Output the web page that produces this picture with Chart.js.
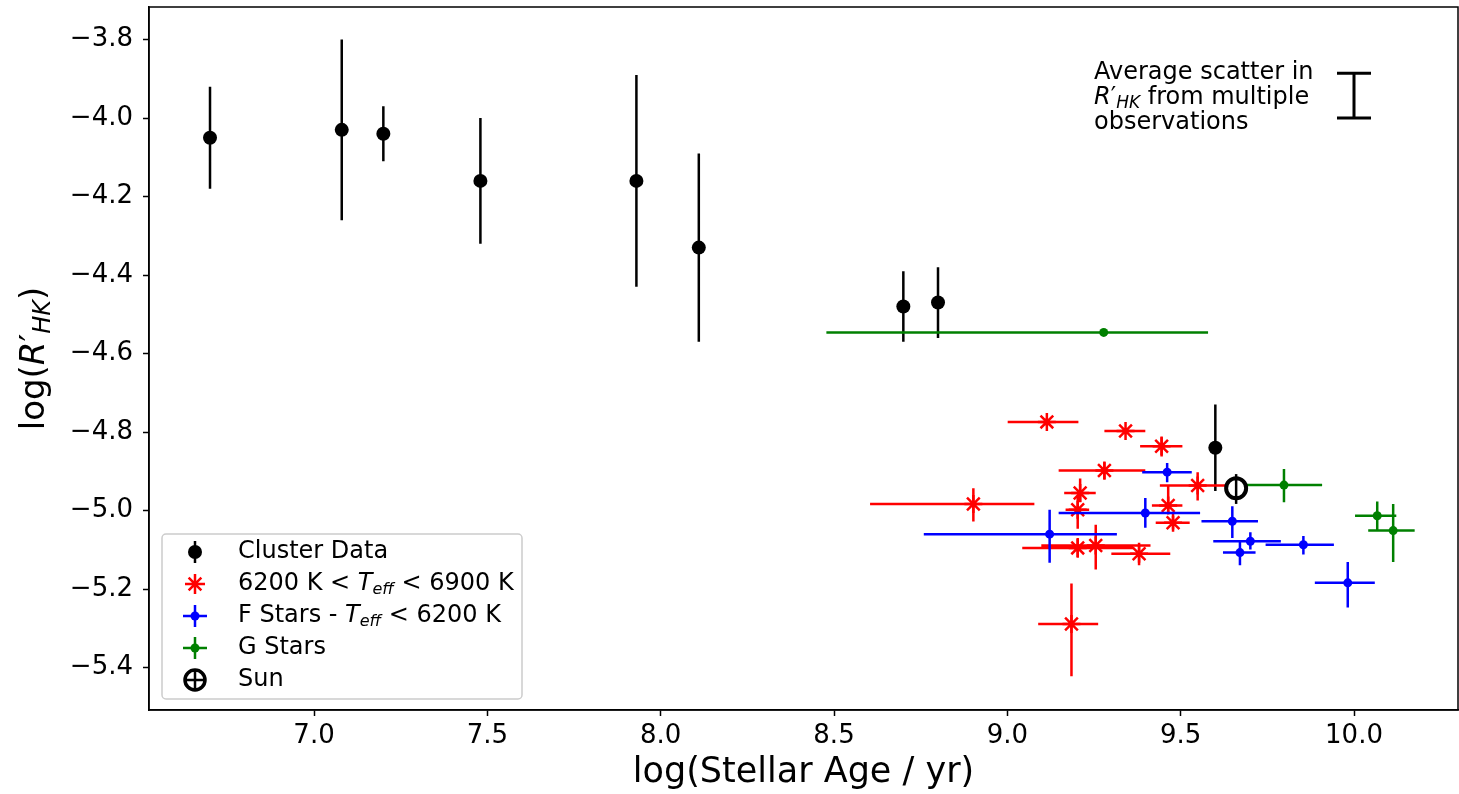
<!DOCTYPE html>
<html>
<head>
<meta charset="utf-8">
<script src="https://cdn.jsdelivr.net/npm/chart.js@4.4.0/dist/chart.umd.min.js"></script>
<style>
  body { margin: 0; background: #fff; }
  canvas { display: block; }
</style>
</head>
<body>
<canvas id="chart" width="1459" height="794"></canvas>
<script>
// Cluster data (no age errors)
const clusterAge = [6.70, 7.08, 7.20, 7.48, 7.93, 8.11, 8.70, 8.80, 9.60];
const clusterR = [-4.05, -4.03, -4.04, -4.16, -4.16, -4.33, -4.48, -4.47, -4.84];
const clusterRLo = [-4.18, -4.26, -4.11, -4.32, -4.43, -4.57, -4.57, -4.56, -4.95];
const clusterRHi = [-3.92, -3.80, -3.97, -4.00, -3.89, -4.09, -4.39, -4.38, -4.73];

// 6200 K < Teff < 6900 K
const hotAge = [9.114, 9.341, 9.445, 9.28, 9.549, 9.464, 9.478, 8.902, 9.21, 9.203, 9.203, 9.255, 9.38, 9.185];
const hotAgeLo = [9.001, 9.28, 9.383, 9.148, 9.44, 9.417, 9.428, 8.604, 9.164, 9.168, 9.043, 9.098, 9.30, 9.089];
const hotAgeHi = [9.205, 9.398, 9.505, 9.398, 9.66, 9.505, 9.526, 9.078, 9.255, 9.236, 9.363, 9.413, 9.47, 9.262];
const hotR = [-4.774, -4.797, -4.836, -4.898, -4.936, -4.987, -5.031, -4.983, -4.955, -4.998, -5.095, -5.089, -5.11, -5.289];
const hotRLo = [-4.783, -4.805, -4.862, -4.921, -4.974, -5.008, -5.048, -5.028, -4.979, -5.046, -5.12, -5.15, -5.139, -5.422];
const hotRHi = [-4.765, -4.79, -4.811, -4.877, -4.902, -4.935, -5.013, -4.943, -4.918, -4.963, -5.07, -5.036, -5.082, -5.186];

// F stars - Teff < 6200 K
const fAge = [9.461, 9.398, 9.649, 9.701, 9.671, 9.854, 9.982, 9.122];
const fAgeLo = [9.389, 9.148, 9.56, 9.594, 9.622, 9.745, 9.887, 8.759];
const fAgeHi = [9.532, 9.556, 9.723, 9.789, 9.716, 9.942, 10.06, 9.316];
const fR = [-4.902, -5.006, -5.027, -5.078, -5.107, -5.087, -5.184, -5.06];
const fRLo = [-4.928, -5.044, -5.07, -5.099, -5.139, -5.112, -5.247, -5.133];
const fRHi = [-4.879, -4.968, -4.989, -5.055, -5.078, -5.065, -5.131, -4.998];

// G stars
const gAge = [9.278, 9.798, 10.067, 10.113];
const gAgeLo = [8.478, 9.67, 10.003, 10.041];
const gAgeHi = [9.579, 9.908, 10.122, 10.175];
const gR = [-4.546, -4.935, -5.013, -5.051];
const gRLo = [-4.546, -4.979, -5.048, -5.131];
const gRHi = [-4.546, -4.894, -4.977, -4.983];

// Sun
const sunAge = [9.66];
const sunR = [-4.943];
const sunRLo = [-4.983];
const sunRHi = [-4.907];

// "Average scatter" bar
const scatterBarAge = 10.0;
const scatterBarLo = -4.0;
const scatterBarHi = -3.886;
const scatterTextAge = 9.25;
const scatterText = [
  [['Average scatter in', '']],
  [['R', 'i'], ['\u2032', ''], ['HK', 'is'], [' from multiple', '']],
  [['observations', '']]
];

const legendLabels = [
  [['Cluster Data', '']],
  [['6200 K < ', ''], ['T', 'i'], ['eff', 'is'], [' < 6900 K', '']],
  [['F Stars - ', ''], ['T', 'i'], ['eff', 'is'], [' < 6200 K', '']],
  [['G Stars', '']],
  [['Sun', '']]
];

const xTitle = 'log(Stellar Age / yr)';
const yTitle = [['log(', ''], ['R', 'i'], ['\u2032', ''], ['HK', 'is'], [')', '']];

const FONT = 'DejaVu Sans';

function toPoints(xs, ys) {
  return xs.map((x, i) => ({ x: x, y: ys[i] }));
}

function richText(ctx, parts, x, y, size, align) {
  const fontFor = st => (st.includes('i') ? 'italic ' : '') +
    Math.round(st.includes('s') ? size * 0.7 : size) + 'px "' + FONT + '"';
  let w = 0;
  parts.forEach(([t, st]) => { ctx.font = fontFor(st); w += ctx.measureText(t).width; });
  let cx = align === 'center' ? x - w / 2 : x;
  parts.forEach(([t, st]) => {
    ctx.font = fontFor(st);
    ctx.fillText(t, cx, st.includes('s') ? y + size * 0.25 : y);
    cx += ctx.measureText(t).width;
  });
}

function drawErrors(chart, ds) {
  const xs = chart.scales.x, ys = chart.scales.y, ctx = chart.ctx, a = chart.chartArea;
  const e = ds.errors;
  ctx.save();
  ctx.beginPath();
  ctx.rect(a.left, a.top, a.right - a.left, a.bottom - a.top);
  ctx.clip();
  ctx.strokeStyle = ds.errorColor;
  ctx.lineWidth = 2.5;
  ctx.beginPath();
  ds.data.forEach((p, i) => {
    const px = xs.getPixelForValue(p.x), py = ys.getPixelForValue(p.y);
    if (e.xLo) {
      ctx.moveTo(xs.getPixelForValue(e.xLo[i]), py);
      ctx.lineTo(xs.getPixelForValue(e.xHi[i]), py);
    }
    if (e.yLo) {
      ctx.moveTo(px, ys.getPixelForValue(e.yLo[i]));
      ctx.lineTo(px, ys.getPixelForValue(e.yHi[i]));
    }
  });
  ctx.stroke();
  ctx.restore();
}

const errorBarPlugin = {
  id: 'errorBars',
  beforeDatasetDraw(chart, args) {
    const ds = chart.data.datasets[args.index];
    if (ds.errors && !ds.errorsOnTop) drawErrors(chart, ds);
  },
  afterDatasetDraw(chart, args) {
    const ds = chart.data.datasets[args.index];
    if (ds.errors && ds.errorsOnTop) drawErrors(chart, ds);
  }
};

// legend marker shapes
function legendMarker(ctx, kind, x, y) {
  ctx.save();
  ctx.lineWidth = 2.5;
  if (kind === 0) {
    ctx.strokeStyle = '#000'; ctx.fillStyle = '#000';
    ctx.beginPath(); ctx.moveTo(x, y - 11); ctx.lineTo(x, y + 11); ctx.stroke();
    ctx.beginPath(); ctx.arc(x, y, 7, 0, Math.PI * 2); ctx.fill();
  } else if (kind === 1) {
    ctx.strokeStyle = 'red';
    ctx.beginPath();
    ctx.moveTo(x - 10, y); ctx.lineTo(x + 10, y);
    ctx.moveTo(x, y - 10); ctx.lineTo(x, y + 10);
    const d = 9 * Math.SQRT1_2;
    ctx.moveTo(x - d, y - d); ctx.lineTo(x + d, y + d);
    ctx.moveTo(x - d, y + d); ctx.lineTo(x + d, y - d);
    ctx.stroke();
  } else if (kind === 2 || kind === 3) {
    const c = kind === 2 ? 'blue' : 'green';
    ctx.strokeStyle = c; ctx.fillStyle = c;
    ctx.beginPath();
    ctx.moveTo(x - 12, y); ctx.lineTo(x + 12, y);
    ctx.moveTo(x, y - 11); ctx.lineTo(x, y + 11);
    ctx.stroke();
    ctx.beginPath(); ctx.arc(x, y, 4.5, 0, Math.PI * 2); ctx.fill();
  } else {
    ctx.strokeStyle = '#000'; ctx.lineWidth = 3.5;
    ctx.beginPath(); ctx.arc(x, y, 10, 0, Math.PI * 2); ctx.stroke();
    ctx.lineWidth = 2.5;
    ctx.beginPath();
    ctx.moveTo(x - 10, y); ctx.lineTo(x + 10, y);
    ctx.moveTo(x, y - 10); ctx.lineTo(x, y + 10);
    ctx.stroke();
  }
  ctx.restore();
}

const decorPlugin = {
  id: 'decor',
  afterDraw(chart) {
    const ctx = chart.ctx, a = chart.chartArea;
    const xs = chart.scales.x, ys = chart.scales.y;
    ctx.save();
    // full frame
    ctx.strokeStyle = '#000';
    ctx.lineWidth = 1.5;
    ctx.strokeRect(a.left, a.top, a.right - a.left, a.bottom - a.top);

    // y-axis title
    ctx.fillStyle = '#000';
    ctx.textBaseline = 'middle';
    ctx.save();
    ctx.translate(35, (a.top + a.bottom) / 2);
    ctx.rotate(-Math.PI / 2);
    richText(ctx, yTitle, 0, 0, 34, 'center');
    ctx.restore();

    // average scatter bar with caps
    const bx = xs.getPixelForValue(scatterBarAge);
    const bt = ys.getPixelForValue(scatterBarHi), bb = ys.getPixelForValue(scatterBarLo);
    ctx.lineWidth = 3;
    ctx.beginPath();
    ctx.moveTo(bx, bt); ctx.lineTo(bx, bb);
    ctx.moveTo(bx - 17, bt); ctx.lineTo(bx + 17, bt);
    ctx.moveTo(bx - 17, bb); ctx.lineTo(bx + 17, bb);
    ctx.stroke();

    // annotation text
    scatterText.forEach((line, i) => {
      richText(ctx, line, xs.getPixelForValue(scatterTextAge), 73 + i * 25, 24, 'left');
    });

    // legend
    const lx = a.left + 13, ly = a.bottom - 176, lw = 360, lh = 165;
    ctx.fillStyle = 'rgba(255,255,255,0.8)';
    ctx.strokeStyle = '#cccccc';
    ctx.lineWidth = 1.5;
    ctx.beginPath();
    ctx.roundRect(lx, ly, lw, lh, 4);
    ctx.fill();
    ctx.stroke();
    legendLabels.forEach((parts, i) => {
      const ry = ly + 18 + i * 32;
      legendMarker(ctx, i, lx + 33, ry);
      ctx.fillStyle = '#000';
      richText(ctx, parts, lx + 76, ry, 23.5, 'left');
    });
    ctx.restore();
  }
};

const tickFont = { family: FONT, size: 26 };

new Chart(document.getElementById('chart'), {
  type: 'scatter',
  data: {
    datasets: [
      {
        label: 'Cluster Data',
        data: toPoints(clusterAge, clusterR),
        errors: { yLo: clusterRLo, yHi: clusterRHi },
        errorColor: '#000',
        backgroundColor: '#000', borderColor: '#000',
        pointRadius: 7, pointBorderWidth: 0,
        order: 5
      },
      {
        label: '6200 K < Teff < 6900 K',
        data: toPoints(hotAge, hotR),
        errors: { xLo: hotAgeLo, xHi: hotAgeHi, yLo: hotRLo, yHi: hotRHi },
        errorColor: 'red',
        pointStyle: 'star',
        backgroundColor: 'red', borderColor: 'red',
        pointRadius: 9, pointBorderWidth: 2.5,
        order: 4
      },
      {
        label: 'F Stars - Teff < 6200 K',
        data: toPoints(fAge, fR),
        errors: { xLo: fAgeLo, xHi: fAgeHi, yLo: fRLo, yHi: fRHi },
        errorColor: 'blue',
        backgroundColor: 'blue', borderColor: 'blue',
        pointRadius: 4.5, pointBorderWidth: 0,
        order: 3
      },
      {
        label: 'G Stars',
        data: toPoints(gAge, gR),
        errors: { xLo: gAgeLo, xHi: gAgeHi, yLo: gRLo, yHi: gRHi },
        errorColor: 'green',
        backgroundColor: 'green', borderColor: 'green',
        pointRadius: 4.5, pointBorderWidth: 0,
        order: 2
      },
      {
        label: 'Sun',
        data: toPoints(sunAge, sunR),
        errors: { yLo: sunRLo, yHi: sunRHi },
        errorsOnTop: true,
        errorColor: '#000',
        backgroundColor: '#fff', borderColor: '#000',
        pointRadius: 10, pointBorderWidth: 4,
        order: 1
      }
    ]
  },
  options: {
    responsive: false,
    animation: false,
    layout: { autoPadding: false, padding: { top: 7, right: 1, left: 0, bottom: 0 } },
    plugins: {
      legend: { display: false },
      tooltip: { enabled: false }
    },
    scales: {
      x: {
        type: 'linear',
        min: 6.524,
        max: 10.30,
        afterFit(scale) {
          scale.height = 84;
          scale.paddingLeft = 0;
          scale.paddingRight = 0;
        },
        border: { color: '#000', width: 1.5 },
        grid: { drawOnChartArea: false, drawTicks: true, tickLength: 6, tickColor: '#000', tickWidth: 1.5 },
        ticks: {
          stepSize: 0.5, includeBounds: false, color: '#000', font: tickFont, padding: 5,
          maxRotation: 0,
          callback: v => v.toFixed(1)
        },
        title: {
          display: true, text: xTitle, color: '#000',
          font: { family: FONT, size: 35, lineHeight: 1.0 }
        }
      },
      y: {
        type: 'linear',
        min: -5.508,
        max: -3.717,
        afterFit(scale) {
          scale.width = 149;
          scale.paddingTop = 0;
          scale.paddingBottom = 0;
        },
        border: { color: '#000', width: 1.5 },
        grid: { drawOnChartArea: false, drawTicks: true, tickLength: 6, tickColor: '#000', tickWidth: 1.5 },
        ticks: {
          stepSize: 0.2, includeBounds: false, color: '#000', font: tickFont, padding: 10,
          callback: v => (v < 0 ? '\u2212' : '') + Math.abs(v).toFixed(1)
        }
      }
    }
  },
  plugins: [errorBarPlugin, decorPlugin]
});
</script>
</body>
</html>
